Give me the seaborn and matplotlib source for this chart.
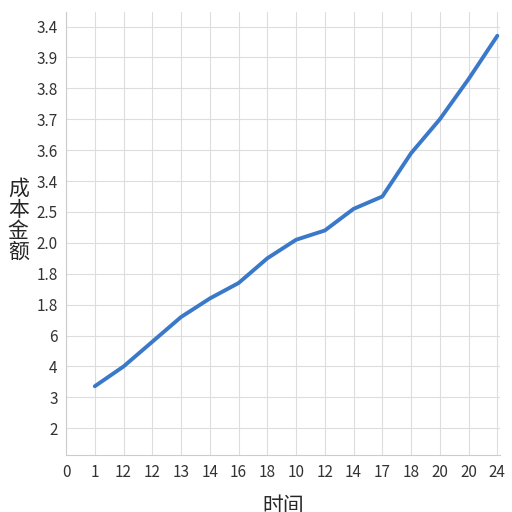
import matplotlib
matplotlib.use("Agg")
import matplotlib.pyplot as plt
import seaborn as sns
import pandas as pd

# tick labels as printed on the chart
x_labels = ["0", "1", "12", "12", "13", "14", "16", "18", "10", "12", "14", "17", "18", "20", "20", "24"]
y_labels = ["2", "3", "4", "6", "1.8", "1.8", "2.0", "2.5", "3.4", "3.6", "3.7", "3.8", "3.9", "3.4"]

# line values in grid units
x_pos = [1, 2, 3, 4, 5, 6, 7, 8, 9, 10, 11, 12, 13, 14, 15]
cost = [2.36, 3.0, 3.8, 4.6, 5.2, 5.7, 6.5, 7.1, 7.4, 8.1, 8.5, 9.9, 11.0, 12.3, 13.7]

sns.set_style("whitegrid")
plt.rcParams['font.family'] = ['Noto Sans CJK SC', 'DejaVu Sans']

fig = plt.figure(figsize=(5.12, 5.12), dpi=100)
ax = fig.add_axes([0.129, 0.111, 0.848, 0.865])

df = pd.DataFrame({"x": x_pos, "y": cost})
sns.lineplot(data=df, x="x", y="y", ax=ax, color="#3a78c9", linewidth=2.8)

ax.set_xticks(range(len(x_labels)))
ax.set_xticklabels(x_labels, fontsize=11, color="#333333")
ax.set_yticks(range(1, len(y_labels) + 1))
ax.set_yticklabels(y_labels, fontsize=11, color="#333333")
ax.set_xlim(0, 15.1)
ax.set_ylim(0.13, 14.46)
ax.grid(True, color="#dddddd", linewidth=0.8)
for s in ["top", "right"]:
    ax.spines[s].set_visible(False)
for s in ["left", "bottom"]:
    ax.spines[s].set_color("#cccccc")
ax.tick_params(axis="both", length=0, pad=6)

ax.set_xlabel("时间", fontsize=15)
ax.xaxis.set_label_coords(0.5, -0.09)
ax.set_ylabel("成\n本\n金\n额", fontsize=15, rotation=0, linespacing=0.95, va="center")
ax.yaxis.set_label_coords(-0.11, 0.53)

fig.savefig("out.png", dpi=100)
